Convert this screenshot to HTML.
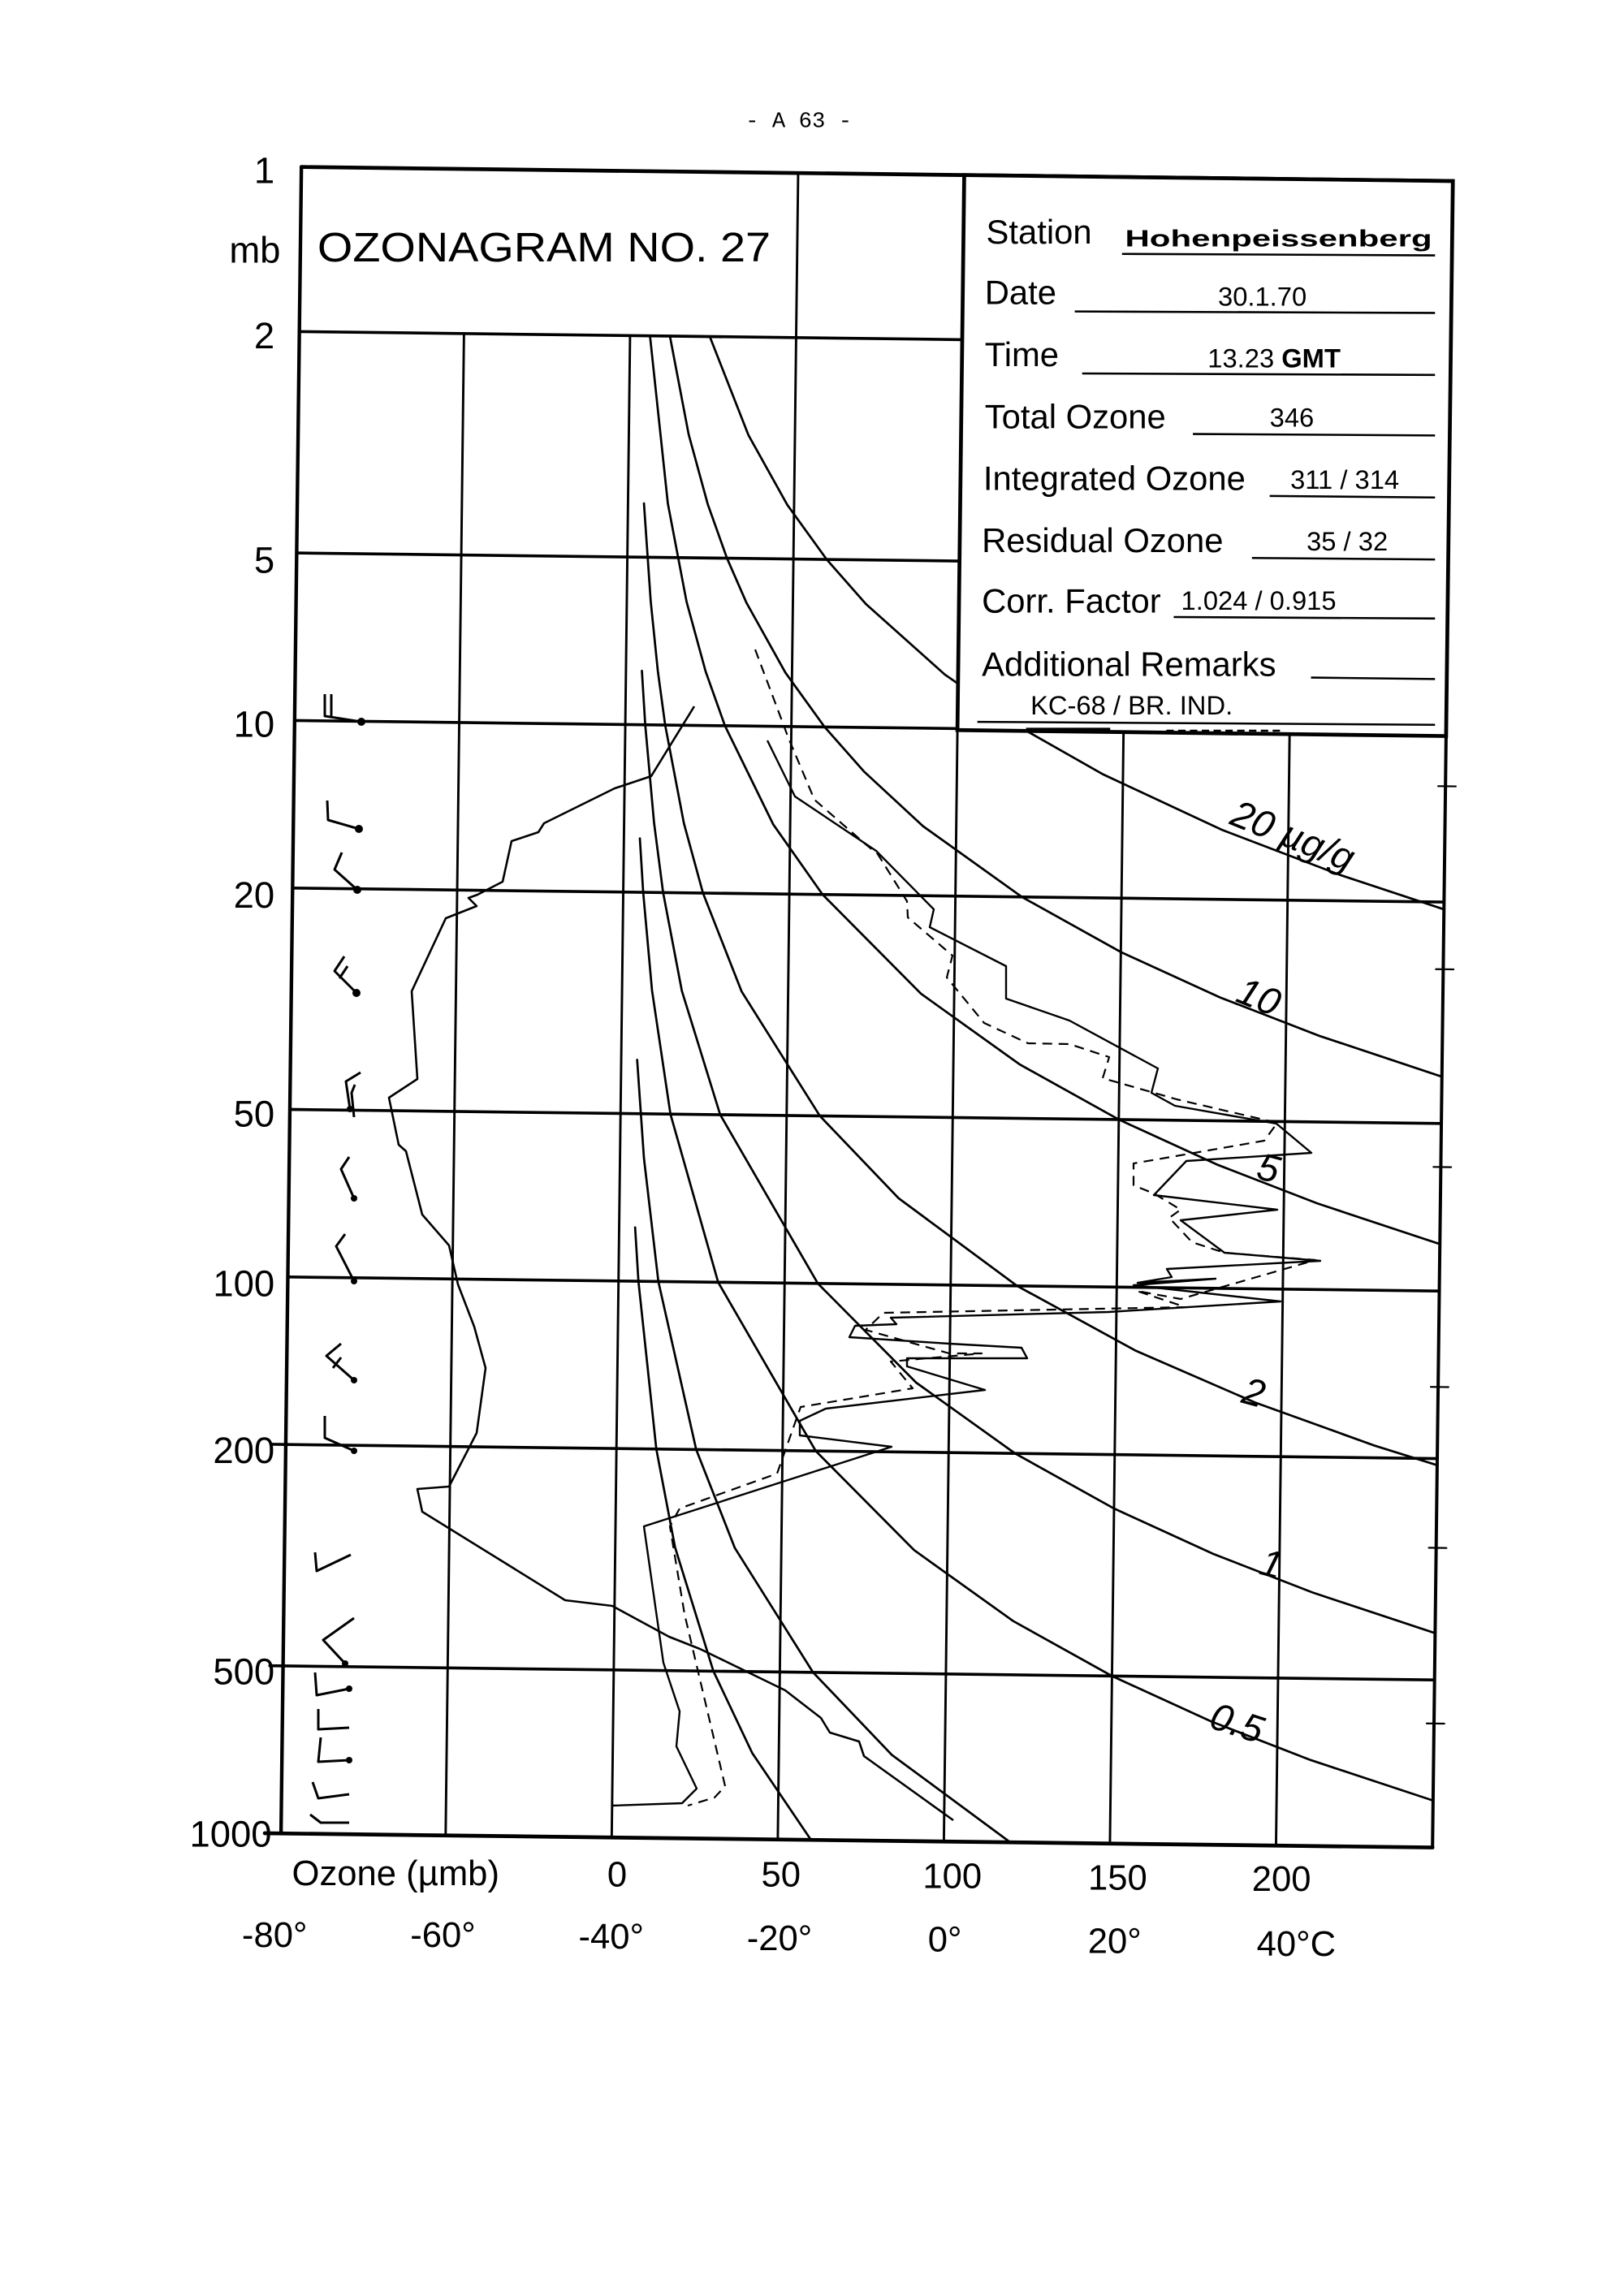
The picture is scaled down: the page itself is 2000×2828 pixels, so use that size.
<!DOCTYPE html>
<html><head><meta charset="utf-8"><style>
html,body{margin:0;padding:0;background:#fff}
svg{display:block}
text{font-family:"Liberation Sans",sans-serif;fill:#000}
.m{font-family:"Liberation Mono",monospace}
</style></head><body>
<svg width="2000" height="2828" viewBox="0 0 1100 1555.4" xmlns="http://www.w3.org/2000/svg">
<rect x="0" y="0" width="1100" height="1555.4" fill="#fff"/>
<text x="505" y="86" font-size="15" class="m">- A 63 -</text>
<g transform="rotate(0.7 600 700)" stroke="#000" fill="none" stroke-linecap="round">
 <line x1="197" y1="118" x2="977" y2="118" stroke-width="2.6"/>
 <line x1="197" y1="118" x2="197" y2="1247" stroke-width="2.4"/>
 <line x1="977" y1="118" x2="977" y2="1247" stroke-width="2.2"/>
 <line x1="186" y1="1247" x2="977" y2="1247" stroke-width="2.6"/>
 <g stroke-width="2">
  <line x1="197" y1="229.5" x2="648" y2="229.5"/>
  <line x1="197" y1="379.5" x2="977" y2="379.5"/>
  <line x1="197" y1="493" x2="977" y2="493"/>
  <line x1="197" y1="606.5" x2="977" y2="606.5"/>
  <line x1="197" y1="756.5" x2="977" y2="756.5"/>
  <line x1="197" y1="870" x2="977" y2="870"/>
  <line x1="188" y1="983.5" x2="977" y2="983.5"/>
  <line x1="188" y1="1133.5" x2="977" y2="1133.5"/>
 </g>
 <g stroke-width="1.6">
  <line x1="308.5" y1="229.5" x2="308.5" y2="1247"/>
  <line x1="421" y1="229.5" x2="421" y2="1247"/>
  <line x1="533.5" y1="118" x2="533.5" y2="1247"/>
  <line x1="646" y1="494" x2="646" y2="1247"/>
  <line x1="758.5" y1="494" x2="758.5" y2="1247"/>
  <line x1="871" y1="494" x2="871" y2="1247"/>
 </g>
 <g stroke-width="1.2">
  <line x1="972" y1="528" x2="984" y2="528"/><line x1="972" y1="652" x2="984" y2="652"/>
  <line x1="972" y1="786" x2="984" y2="786"/><line x1="972" y1="935" x2="984" y2="935"/>
  <line x1="972" y1="1044" x2="984" y2="1044"/><line x1="972" y1="1163" x2="984" y2="1163"/>
 </g>
 <g stroke-width="1.5">
  <polyline points="475,229.5 502,295.9 529,343 556,379.5 583,409.4 637,456.5 691,493 745,522.8 826,559.4 907,589.2 977,611.4"/>
  <polyline points="448,229.5 461.5,295.9 475,343 488.5,379.5 502,409.4 529,456.5 556,493 583,522.8 623.5,559.4 691,606.5 758.5,643 826,672.9 893.5,698.1 977,724.8"/>
  <polyline points="434.5,229.5 448,343 461.5,409.4 475,456.5 488.5,493 522,559.4 556,606.5 623.5,672.9 691,720 758.5,756.5 826,786.4 893.5,811.6 977,838.2"/>
  <polyline points="431.8,343 437.2,409.4 442.6,456.5 448,493 461.5,559.4 475,606.5 502,672.9 556,756.5 610,811.6 691,870 772,913 853,947 934,975.1 977,988"/>
  <polyline points="431.8,456.5 434.5,493 441.3,559.4 448,606.5 461.5,672.9 488.5,756.5 556,870 623.5,936.4 691,983.5 758.5,1020 826,1049.9 893.5,1075.2 977,1101.8"/>
  <polyline points="431.8,570 434.5,606.5 441.3,672.9 454.8,756.5 488.5,870 556,983.5 623.5,1049.9 691,1097 758.5,1133.5 826,1163.4 893.5,1188.7 977,1215.2"/>
  <polyline points="431.8,720 437.2,786.4 448,870 475,983.5 502,1049.9 556,1133.5 610,1188.7 691,1247"/>
  <polyline points="431.8,833.5 434.5,870 448,983.5 461.5,1049.9 488.5,1133.5 515.5,1188.7 556,1247"/>
 </g>
 <rect x="646" y="118" width="331" height="376" fill="#fff" stroke="#000" stroke-width="2.6"/>
</g>
<g font-size="26" font-style="italic">
 <text x="832" y="558" transform="rotate(22 832 558)">20 µg/g</text>
 <text x="836" y="678" transform="rotate(22 836 678)">10</text>
 <text x="850" y="798" transform="rotate(15 850 798)">5</text>
 <text x="840" y="950" transform="rotate(15 840 950)">2</text>
 <text x="852" y="1066" transform="rotate(15 852 1066)">1</text>
 <text x="818" y="1170" transform="rotate(18 818 1170)">0.5</text>
</g>
<text x="215" y="177" font-size="28" textLength="307" lengthAdjust="spacingAndGlyphs">OZONAGRAM  NO. 27</text>
<g font-size="23">
 <text x="668" y="165">Station</text>
 <text x="667" y="206">Date</text>
 <text x="667" y="248">Time</text>
 <text x="667" y="290">Total Ozone</text>
 <text x="666" y="332">Integrated Ozone</text>
 <text x="665" y="374">Residual Ozone</text>
 <text x="665" y="415">Corr. Factor</text>
 <text x="665" y="458">Additional Remarks</text>
</g>
<g font-size="18" class="m">
 <text x="762" y="167" font-weight="bold" font-size="16" textLength="208" lengthAdjust="spacingAndGlyphs">Hohenpeissenberg</text>
 <text x="825" y="207">30.1.70</text>
 <text x="818" y="249">13.23  <tspan font-weight="bold">GMT</tspan></text>
 <text x="860" y="289">346</text>
 <text x="874" y="331">311 / 314</text>
 <text x="885" y="373">35 / 32</text>
 <text x="800" y="413">1.024 / 0.915</text>
 <text x="698" y="484">KC-68 / BR. IND.</text>
</g>
<g stroke="#000" stroke-width="1.4">
 <line x1="760" y1="172" x2="972" y2="173"/>
 <line x1="728" y1="211" x2="972" y2="212"/>
 <line x1="733" y1="253" x2="972" y2="254"/>
 <line x1="808" y1="294" x2="972" y2="295"/>
 <line x1="860" y1="336" x2="972" y2="337"/>
 <line x1="848" y1="378" x2="972" y2="379"/>
 <line x1="795" y1="418" x2="972" y2="419"/>
 <line x1="888" y1="459" x2="972" y2="460"/>
 <line x1="662" y1="489" x2="972" y2="491"/>
 <line x1="695" y1="494" x2="752" y2="494" stroke-width="2"/>
 <line x1="790" y1="495" x2="868" y2="495" stroke-dasharray="5,3"/>
</g>
<g font-size="25" text-anchor="end">
 <text x="186" y="124">1</text>
 <text x="190" y="178">mb</text>
 <text x="186" y="236">2</text>
 <text x="186" y="388">5</text>
 <text x="186" y="499">10</text>
 <text x="186" y="615">20</text>
 <text x="186" y="763">50</text>
 <text x="186" y="878">100</text>
 <text x="186" y="991">200</text>
 <text x="186" y="1141">500</text>
 <text x="184" y="1251">1000</text>
</g>
<g font-size="24" text-anchor="middle">
 <text x="268" y="1277">Ozone (µmb)</text>
 <text x="418" y="1278">0</text>
 <text x="529" y="1278">50</text>
 <text x="645" y="1279">100</text>
 <text x="757" y="1280">150</text>
 <text x="868" y="1281">200</text>
 <text x="186" y="1319">-80°</text>
 <text x="300" y="1319">-60°</text>
 <text x="414" y="1320">-40°</text>
 <text x="528" y="1321">-20°</text>
 <text x="640" y="1322">0°</text>
 <text x="755" y="1323">20°</text>
 <text x="878" y="1325">40°C</text>
</g>
<g transform="scale(0.55)" fill="none" stroke="#000" stroke-linejoin="round">
 <polyline stroke-width="2.6" points="855,870 802,956 757,971 670,1014 663,1025 630,1036 619,1086 588,1102 577,1106 587,1116 549,1131 507,1221 514,1329 479,1352 491,1410 500,1418 520,1496 553,1534 564,1582 584,1634 598,1685 587,1765 553,1831 514,1834 520,1862 696,1971 754,1978 824,2016 862,2031 967,2082 1011,2116 1022,2134 1058,2145 1064,2163 1174,2242"/>
 <polyline stroke-width="2.4" points="945,912 979,981 1079,1048 1150,1120 1145,1142 1239,1190 1239,1230 1317,1257 1426,1316 1418,1346 1447,1362 1572,1384 1615,1420 1461,1430 1421,1472 1573,1490 1454,1503 1508,1543 1626,1553 1437,1563 1443,1573 1401,1580 1497,1575 1396,1583 1577,1603 1365,1616 1097,1623 1104,1631 1053,1633 1046,1647 1169,1655 1258,1660 1265,1673 1117,1673 1117,1683 1213,1712 1017,1735 985,1750 985,1768 1098,1782 793,1880 817,2048 837,2108 833,2151 858,2203 840,2221 753,2224"/>
 <polyline stroke-width="2.2" stroke-dasharray="12,8" points="930,800 971,909 1003,985 1065,1039 1081,1052 1117,1110 1118,1130 1173,1177 1166,1204 1212,1260 1266,1285 1317,1286 1366,1302 1358,1328 1449,1354 1543,1376 1573,1383 1557,1405 1396,1433 1396,1460 1421,1470 1454,1490 1440,1500 1468,1530 1508,1543 1620,1552 1454,1600 1400,1590 1460,1610 1088,1617 1066,1638 1169,1667 1209,1667 1097,1677 1124,1710 986,1733 957,1815 837,1858 825,1880 843,1988 893,2200 880,2214 847,2224"/>
 <g stroke-width="3">
  <polyline points="400,855 400,882 445,889"/><line x1="408" y1="855" x2="408" y2="882"/>
  <polyline points="403,986 404,1010 442,1021"/>
  <polyline points="421,1050 412,1071 440,1096"/>
  <polyline points="424,1178 412,1196 439,1223"/><line x1="418" y1="1205" x2="428" y2="1190"/>
  <polyline points="444,1321 426,1332 431,1366"/>
  <polyline points="437,1336 433,1346 436,1376"/>
  <polyline points="430,1425 420,1440 436,1476"/>
  <polyline points="425,1520 414,1535 436,1578"/>
  <polyline points="420,1655 402,1670 436,1700"/><line x1="410" y1="1685" x2="420" y2="1672"/>
  <polyline points="400,1744 400,1771 436,1787"/>
  <polyline points="388,1912 390,1935 432,1915"/>
  <polyline points="436,1993 398,2020 425,2049"/>
  <polyline points="388,2060 390,2088 430,2080"/>
  <polyline points="392,2105 392,2130 430,2128"/>
  <polyline points="395,2140 392,2170 430,2168"/>
  <polyline points="385,2195 392,2215 430,2210"/>
  <polyline points="382,2235 395,2245 430,2245"/>
 </g>
 <g fill="#000" stroke="none">
  <circle cx="445" cy="889" r="5"/><circle cx="442" cy="1021" r="5"/><circle cx="440" cy="1096" r="5"/>
  <circle cx="439" cy="1223" r="5"/><circle cx="431" cy="1366" r="4"/><circle cx="436" cy="1476" r="4"/>
  <circle cx="436" cy="1578" r="4"/><circle cx="436" cy="1700" r="4"/><circle cx="436" cy="1787" r="4"/>
  <circle cx="425" cy="2049" r="4"/><circle cx="430" cy="2080" r="4"/><circle cx="430" cy="2168" r="4"/>
 </g>
</g>
</svg>
</body></html>
